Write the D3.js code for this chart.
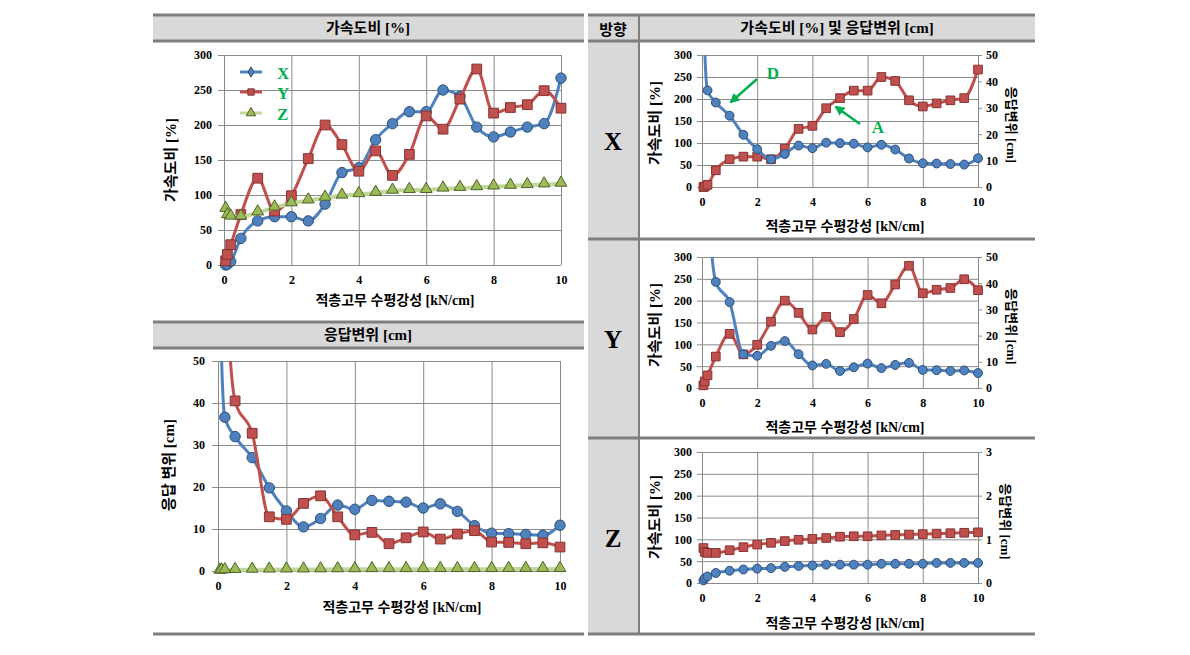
<!DOCTYPE html>
<html><head><meta charset="utf-8">
<script src="https://cdn.jsdelivr.net/npm/d3@7/dist/d3.min.js"></script>
<style>body{margin:0;background:#fff}</style></head>
<body><svg id="c" width="1190" height="655"></svg>
<script>
// ---------- data ----------
const stiffness = [0.05, 0.1, 0.2, 0.5, 1, 1.5, 2, 2.5, 3, 3.5, 4, 4.5, 5, 5.5, 6, 6.5, 7, 7.5, 8, 8.5, 9, 9.5, 10];
const accelX = [0, 1, 5, 38, 63, 69, 69, 63, 87, 132, 139, 179, 202, 219, 219, 250, 241, 197, 183, 190, 197, 202, 267];
const accelY = [6, 15, 29, 72, 124, 77, 99, 152, 200, 172, 134, 163, 128, 158, 213, 194, 237, 280, 217, 225, 229, 249, 224];
const accelZ = [80, 71, 69, 69, 75, 82, 88, 92, 96, 99, 101, 103, 106, 107, 107, 109, 110, 111, 112, 113, 114, 115, 116];
const dispX = [500, 52, 36.6, 32, 27, 19.8, 14.3, 10.5, 12.5, 15.7, 14.7, 16.8, 16.6, 16.4, 15, 16, 14.2, 10.8, 9, 8.9, 8.7, 8.5, 10.9];
const dispY = [500, 300, 80, 40.5, 32.8, 12.9, 12.3, 16.1, 17.9, 12.9, 8.6, 9.2, 6.5, 7.9, 9.3, 7.6, 8.8, 9.6, 6.9, 6.8, 6.5, 6.7, 5.7];
const dispZ = [0.06, 0.11, 0.15, 0.23, 0.28, 0.31, 0.33, 0.34, 0.37, 0.39, 0.40, 0.42, 0.42, 0.42, 0.42, 0.44, 0.44, 0.44, 0.44, 0.46, 0.46, 0.46, 0.46];

const xTicks = [0, 2, 4, 6, 8, 10];
const accelTicks = [0, 50, 100, 150, 200, 250, 300];
const dispTicks = [0, 10, 20, 30, 40, 50];
const dispZTicks = [0, 1, 2, 3];
const legendNames = ["X", "Y", "Z"];
const xTitle = "적층고무 수평강성 [kN/cm]";

// ---------- style ----------
const FONT = '"Liberation Serif","Noto Sans CJK KR",serif';
const KFONT = '"Noto Sans CJK KR","Liberation Serif",sans-serif';
const C = {
  blue: '#4f81bd', blueDark: '#2c4f7c', red: '#c0504d', redDark: '#853432',
  greenLine: '#c4d79b', green: '#9bbb59', greenDark: '#4f6228',
  grid: '#8a8a8a', border: '#7f7f7f', head: '#d9d9d9', ann: '#00b050'
};
const svg = d3.select('#c');
svg.append('rect').attr('width', 1190).attr('height', 655).attr('fill', '#fff');

// ---------- table frame ----------
function hline(x0, x1, y, w) {
  svg.append('line').attr('x1', x0).attr('x2', x1).attr('y1', y).attr('y2', y)
    .attr('stroke', C.border).attr('stroke-width', w || 3);
}
svg.append('rect').attr('x', 153).attr('y', 15).attr('width', 431).attr('height', 26).attr('fill', C.head);
svg.append('rect').attr('x', 153).attr('y', 322).attr('width', 431).attr('height', 26).attr('fill', C.head);
svg.append('rect').attr('x', 588).attr('y', 15).attr('width', 447).attr('height', 26).attr('fill', C.head);
svg.append('rect').attr('x', 588).attr('y', 41).attr('width', 51).attr('height', 593).attr('fill', C.head);
[15, 41, 322, 348, 634].forEach(y => hline(153, 584, y));
[15, 41, 239, 438, 634].forEach(y => hline(588, 1035, y));
svg.append('line').attr('x1', 639).attr('x2', 639).attr('y1', 15).attr('y2', 634)
  .attr('stroke', C.border).attr('stroke-width', 2);

function text(x, y, s, o) {
  o = o || {};
  const t = svg.append('text').attr('x', x).attr('y', y).text(s)
    .style('font-family', o.font || FONT).attr('font-weight', 'bold')
    .attr('font-size', o.size || 14).attr('fill', o.fill || '#000')
    .attr('text-anchor', o.anchor || 'middle').attr('dominant-baseline', 'central');
  if (o.rotate) t.attr('transform', `rotate(${o.rotate},${x},${y})`);
  return t;
}
text(368, 28, '가속도비 [%]', {size: 15});
text(368, 335, '응답변위 [cm]', {size: 15});
text(613, 28, '방향', {size: 15, font: KFONT});
text(837, 28, '가속도비 [%] 및 응답변위 [cm]', {size: 15});
text(613, 141, 'X', {size: 25});
text(613, 339, 'Y', {size: 25});
text(613, 538, 'Z', {size: 25});

// ---------- plot helper ----------
let clipN = 0;
function styleText(sel, size) {
  sel.attr('font-family', null);
  sel.selectAll('text').style('font-family', FONT).attr('font-weight', 'bold')
    .attr('font-size', size || 12).attr('fill', '#000');
}
function plot(o) {
  const g = svg.append('g');
  const x = d3.scaleLinear().domain([0, 10]).range([o.x0, o.x1]);
  const y = d3.scaleLinear().domain([0, o.yMax]).range([o.y1, o.y0]);
  const yr = o.right ? d3.scaleLinear().domain([0, o.right.max]).range([o.y1, o.y0]) : null;
  // grid
  const gx = g.append('g').attr('transform', `translate(0,${o.y1})`)
    .call(d3.axisBottom(x).tickValues(xTicks).tickSize(-(o.y1 - o.y0)).tickFormat(''));
  gx.select('.domain').remove();
  gx.selectAll('line').attr('stroke', C.grid);
  const gy = g.append('g').attr('transform', `translate(${o.x0},0)`)
    .call(d3.axisLeft(y).tickValues(o.yTicks).tickSize(-(o.x1 - o.x0)).tickFormat(''));
  gy.select('.domain').remove();
  gy.selectAll('line').attr('stroke', C.grid);
  // left axis
  const la = g.append('g').attr('transform', `translate(${o.x0},0)`)
    .call(d3.axisLeft(y).tickValues(o.yTicks).tickSize(o.tickLen).tickPadding(o.tickPad));
  la.select('.domain').attr('stroke', C.grid);
  la.selectAll('line').attr('stroke', C.grid);
  styleText(la);
  // bottom labels
  const xa = g.append('g').attr('transform', `translate(0,${o.y1})`)
    .call(d3.axisBottom(x).tickValues(xTicks).tickSize(0).tickPadding(10));
  xa.select('.domain').remove();
  styleText(xa);
  // right axis
  if (yr) {
    const ra = g.append('g').attr('transform', `translate(${o.x1},0)`)
      .call(d3.axisRight(yr).tickValues(o.right.ticks).tickSize(4).tickPadding(4).tickFormat(d3.format('d')));
    ra.select('.domain').attr('stroke', C.grid);
    ra.selectAll('line').attr('stroke', C.grid);
    styleText(ra);
    text(o.right.titleX, (o.y0 + o.y1) / 2 + 4, '응답변위 [cm]', {size: 13, rotate: 90});
  }
  text(o.xTitleX, o.xTitleY, xTitle, {size: 14});
  text(o.yTitleX, o.yTitleY, o.yTitle, {size: 15, rotate: -90});
  // series
  const id = 'clip' + (clipN++);
  svg.append('clipPath').attr('id', id).append('rect')
    .attr('x', o.x0 - 10).attr('y', o.y0).attr('width', o.x1 - o.x0 + 20).attr('height', o.y1 - o.y0 + 10);
  const sg = g.append('g').attr('clip-path', `url(#${id})`);
  o.series.forEach(s => {
    const sc = s.axis === 'right' ? yr : y;
    const dom = sc.domain()[1];
    const pts = stiffness.map((v, i) => [x(v), sc(s.values[i]), s.values[i]]);
    sg.append('path').attr('d', d3.line().curve(d3.curveMonotoneX)(pts.map(p => [p[0], p[1]])))
      .attr('fill', 'none').attr('stroke', s.line).attr('stroke-width', s.lw || 3)
      .attr('stroke-linejoin', 'round');
    const sym = d3.symbol().type(s.shape).size(s.size);
    sg.selectAll(null).data(pts.filter(p => p[2] <= dom)).enter().append('path')
      .attr('d', sym).attr('transform', p => `translate(${p[0]},${p[1] + (s.shape === d3.symbolTriangle ? -1 : 0)})`)
      .attr('fill', s.fill).attr('stroke', s.stroke).attr('stroke-width', 1);
  });
  return {x, y, yr, g};
}

const blueS = (vals, axis, sz) => ({values: vals, axis, line: C.blue, fill: C.blue, stroke: C.blueDark, shape: d3.symbolCircle, size: sz || 85});
const redS = (vals, axis, sz) => ({values: vals, axis, line: C.red, fill: C.red, stroke: C.redDark, shape: d3.symbolSquare, size: sz || 95});
const greenS = (vals, axis, sz) => ({values: vals, axis, line: C.greenLine, lw: 4, fill: C.green, stroke: C.greenDark, shape: d3.symbolTriangle, size: sz || 60});

// top-left: acceleration ratio
plot({x0: 224, x1: 561, y0: 55, y1: 265, yMax: 300, yTicks: accelTicks, tickLen: 6, tickPad: 6,
  xTitleX: 395, xTitleY: 300, yTitleX: 171, yTitleY: 160, yTitle: '가속도비 [%]',
  series: [blueS(accelX), redS(accelY), greenS(accelZ)]});

// legend
const legY = [72, 92, 113];
const legSeries = [
  {line: C.blue, fill: C.blue, stroke: C.blueDark, shape: d3.symbolDiamond, size: 30},
  {line: C.red, fill: C.red, stroke: C.redDark, shape: d3.symbolSquare, size: 40},
  {line: C.greenLine, fill: C.green, stroke: C.greenDark, shape: d3.symbolTriangle, size: 40}
];
legendNames.forEach((n, i) => {
  const s = legSeries[i];
  svg.append('line').attr('x1', 240).attr('x2', 262).attr('y1', legY[i]).attr('y2', legY[i])
    .attr('stroke', s.line).attr('stroke-width', 3);
  svg.append('path').attr('d', d3.symbol().type(s.shape).size(s.size))
    .attr('transform', `translate(251,${legY[i]})`).attr('fill', s.fill).attr('stroke', s.stroke);
  text(277, legY[i] + 1, n, {size: 17, fill: C.ann, anchor: 'start'});
});

// bottom-left: response displacement
plot({x0: 218, x1: 560, y0: 361, y1: 571, yMax: 50, yTicks: dispTicks, tickLen: 6, tickPad: 7,
  xTitleX: 402, xTitleY: 607, yTitleX: 169, yTitleY: 465, yTitle: '응답 변위 [cm]',
  series: [blueS(dispX), redS(dispY), greenS(dispZ)]});

// right: X, Y, Z directions
plot({x0: 702, x1: 978, y0: 55, y1: 187, yMax: 300, yTicks: accelTicks, tickLen: 5, tickPad: 5,
  right: {max: 50, ticks: dispTicks, titleX: 1011},
  xTitleX: 845, xTitleY: 226, yTitleX: 655, yTitleY: 123, yTitle: '가속도비 [%]',
  series: [redS(accelX, 'left', 75), blueS(dispX, 'right', 62)]});
plot({x0: 702, x1: 978, y0: 257, y1: 388, yMax: 300, yTicks: accelTicks, tickLen: 5, tickPad: 5,
  right: {max: 50, ticks: dispTicks, titleX: 1011},
  xTitleX: 845, xTitleY: 427, yTitleX: 655, yTitleY: 325, yTitle: '가속도비 [%]',
  series: [redS(accelY, 'left', 75), blueS(dispY, 'right', 62)]});
plot({x0: 702, x1: 978, y0: 452, y1: 583, yMax: 300, yTicks: accelTicks, tickLen: 5, tickPad: 5,
  right: {max: 3, ticks: dispZTicks, titleX: 1005},
  xTitleX: 845, xTitleY: 623, yTitleX: 655, yTitleY: 517, yTitle: '가속도비 [%]',
  series: [redS(accelZ, 'left', 75), blueS(dispZ, 'right', 62)]});

// annotations on X-direction chart
const defs = svg.append('defs');
defs.append('marker').attr('id', 'arr').attr('viewBox', '0 0 10 10').attr('refX', 8).attr('refY', 5)
  .attr('markerWidth', 4).attr('markerHeight', 4).attr('orient', 'auto')
  .append('path').attr('d', 'M0,0 L10,5 L0,10 z').attr('fill', C.ann);
function arrow(x1, y1, x2, y2) {
  svg.append('line').attr('x1', x1).attr('y1', y1).attr('x2', x2).attr('y2', y2)
    .attr('stroke', C.ann).attr('stroke-width', 2.5).attr('marker-end', 'url(#arr)');
}
text(773, 73, 'D', {size: 17, fill: C.ann});
arrow(757, 79, 731, 102);
text(878, 127, 'A', {size: 17, fill: C.ann});
arrow(860, 124, 836, 107);
</script></body></html>
